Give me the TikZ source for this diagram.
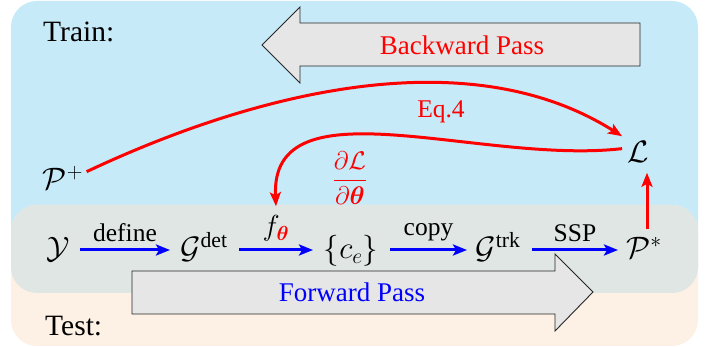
\RequirePackage{fix-cm}
\documentclass[tikz,border=0pt]{standalone}
\usepackage{amsmath}
\usepackage{fontspec}
\setmainfont{Liberation Serif}
\usetikzlibrary{arrows.meta,calc}
\definecolor{trainbg}{RGB}{198,234,248}
\definecolor{testbg}{RGB}{253,240,228}
\definecolor{bothbg}{RGB}{224,230,227}
\definecolor{arrowgray}{RGB}{230,230,230}
\tikzset{
  basefont/.style={font=\fontsize{25.5}{30}\selectfont},
  mathfont/.style={font=\fontsize{31}{36}\selectfont},
  passlab/.style={font=\fontsize{27}{32}\selectfont, inner sep=0pt},
  titlelab/.style={font=\fontsize{29.5}{34}\selectfont, inner sep=0pt, anchor=base west},
  rownode/.style={mathfont, inner xsep=0pt, inner ysep=0pt, text height=22pt, text depth=4pt},
  flow/.style={-{Stealth[length=14pt,width=11pt,inset=3pt]}, line width=3pt, blue},
  back/.style={-{Stealth[length=14pt,width=11pt,inset=3pt]}, line width=3pt, red},
  lab/.style={basefont, midway, above=7pt, inner sep=0pt, black},
  bigarrow/.style={fill=arrowgray, draw=black!85, line width=0.9pt},
}
\begin{document}
\begin{tikzpicture}[x=1pt,y=-1pt]
\useasboundingbox (0,0) rectangle (715,347);
% backgrounds
\fill[trainbg, rounded corners=26pt] (11,1) rectangle (698,294);
\fill[testbg, rounded corners=26pt] (11,205) rectangle (698,346);
\fill[bothbg, rounded corners=26pt] (11,205) rectangle (698,293);
% big arrows
\draw[bigarrow] (262,45) -- (300,7) -- (300,23) -- (640,23) -- (640,66) -- (300,66) -- (300,83) -- cycle;
\node[passlab, red] (bp) at (462,45) {Backward Pass};
\draw[bigarrow] (132,271) -- (555,271) -- (555,254) -- (593,292) -- (555,331) -- (555,314) -- (132,314) -- cycle;
\node[passlab, blue] (fp) at (352,292) {Forward Pass};
% titles
\node[titlelab] (train) at (43,42) {Train:};
\node[titlelab] (test) at (45,336) {Test:};
% row nodes
\node[rownode] (Y) at (58,250) {$\mathcal{Y}$};
\node[rownode] (Gdet) at (204,250) {$\mathcal{G}^{\text{det}}$};
\node[rownode] (ce) at (351,250) {$\{c_e\}$};
\node[rownode] (Gtrk) at (498,250) {$\mathcal{G}^{\text{trk}}$};
\node[rownode] (Pstar) at (644,250) {$\mathcal{P}^{*}$};
\node[mathfont] (Pplus) at (63,178) {$\mathcal{P}^{+}$};
\node[mathfont, inner sep=5pt] (L) at (638,152) {$\mathcal{L}$};
% forward arrows
\draw[flow] ([xshift=22pt]Y.center) -- node[lab] (deflab) {define} ([xshift=-34pt]Gdet.center);
\draw[flow] ([xshift=35pt]Gdet.center) -- node[lab, font=\fontsize{29}{34}\selectfont] (flab) {$f_{\color{red}\boldsymbol{\theta}}$} ([xshift=-38pt]ce.center);
\draw[flow] ([xshift=39pt]ce.center) -- node[lab] (copylab) {copy} ([xshift=-31pt]Gtrk.center);
\draw[flow] ([xshift=34pt]Gtrk.center) -- node[lab] (ssplab) {SSP} ([xshift=-26pt]Pstar.center);
% backward arrows
\draw[back] (Pplus.15) .. controls (260,90) and (470,40) .. (L.north west);
\node[basefont, red] (eq) at (441,112) {Eq.4};
\draw[back] (L.168) .. controls (480,165) and (270,80) .. ([yshift=8pt]flab.north);
\node[basefont, red] (grad) at (350,178) {$\dfrac{\partial\mathcal{L}}{\partial\boldsymbol{\theta}}$};
\draw[back, shorten <=8pt, shorten >=5pt] ([xshift=3pt]Pstar.north) -- ([xshift=3pt]Pstar.north |- L.south);
\end{tikzpicture}
\end{document}
